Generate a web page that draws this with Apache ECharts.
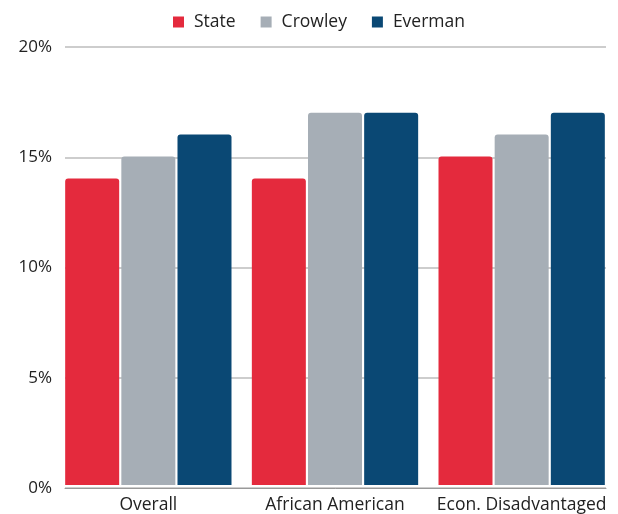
<!DOCTYPE html>
<html><head><meta charset="utf-8">
<script src="https://cdn.jsdelivr.net/npm/echarts@6/dist/echarts.min.js"></script>
<style>html,body{margin:0;padding:0;background:#fff}#c{width:618px;height:514px}</style>
</head><body><div id="c"></div>
<script>
const categories = ['Overall', 'African American', 'Econ. Disadvantaged'];
const seriesNames = ['State', 'Crowley', 'Everman'];
const stateValues = [14, 14, 15];
const crowleyValues = [15, 17, 16];
const evermanValues = [16, 17, 17];
const yTicks = [0, 5, 10, 15, 20];
const colors = ['#E42A3D', '#A6AEB6', '#0A4874'];
const font = 'Open Sans';

const chart = echarts.init(document.getElementById('c'));
const values = [stateValues, crowleyValues, evermanValues];
chart.setOption({
  animation: false,
  color: colors,
  textStyle: { fontFamily: font },
  legend: {
    top: 8, left: 168, itemWidth: 11, itemHeight: 11, itemGap: 25,
    icon: 'rect',
    textStyle: { fontSize: 17.5, color: '#222', fontFamily: font, padding: [0, 0, 0, 5] },
    data: seriesNames
  },
  grid: [
    { left: 65, right: 12, top: 47, bottom: 26 },
    { left: 55, right: 3, top: 47, bottom: 26 }
  ],
  xAxis: [
    { type: 'category', gridIndex: 0, data: categories, axisLabel: { show: false },
      axisTick: { show: false }, axisLine: { show: true, lineStyle: { color: '#999', width: 1 } } },
    { type: 'category', gridIndex: 1, data: categories,
      axisTick: { show: false }, axisLine: { show: false },
      axisLabel: { fontSize: 17.5, color: '#222', margin: 11, fontFamily: font, interval: 0 } }
  ],
  yAxis: [
    { type: 'value', gridIndex: 0, min: yTicks[0], max: yTicks[yTicks.length - 1], interval: 5,
      axisLabel: { formatter: '{value}%', fontSize: 17, color: '#222', margin: 13, fontFamily: font },
      axisLine: { show: false }, axisTick: { show: false },
      splitLine: { lineStyle: { color: '#bdbdbd', width: 1.5 } } },
    { type: 'value', gridIndex: 1, min: yTicks[0], max: yTicks[yTicks.length - 1], interval: 5, show: false,
      splitLine: { show: false } }
  ],
  series: seriesNames.map((name, i) => ({
    name, type: 'bar', xAxisIndex: 1, yAxisIndex: 1,
    data: values[i], barWidth: 54, barGap: '4%',
    itemStyle: { borderRadius: [3, 3, 0, 0] }
  }))
});
</script></body></html>
